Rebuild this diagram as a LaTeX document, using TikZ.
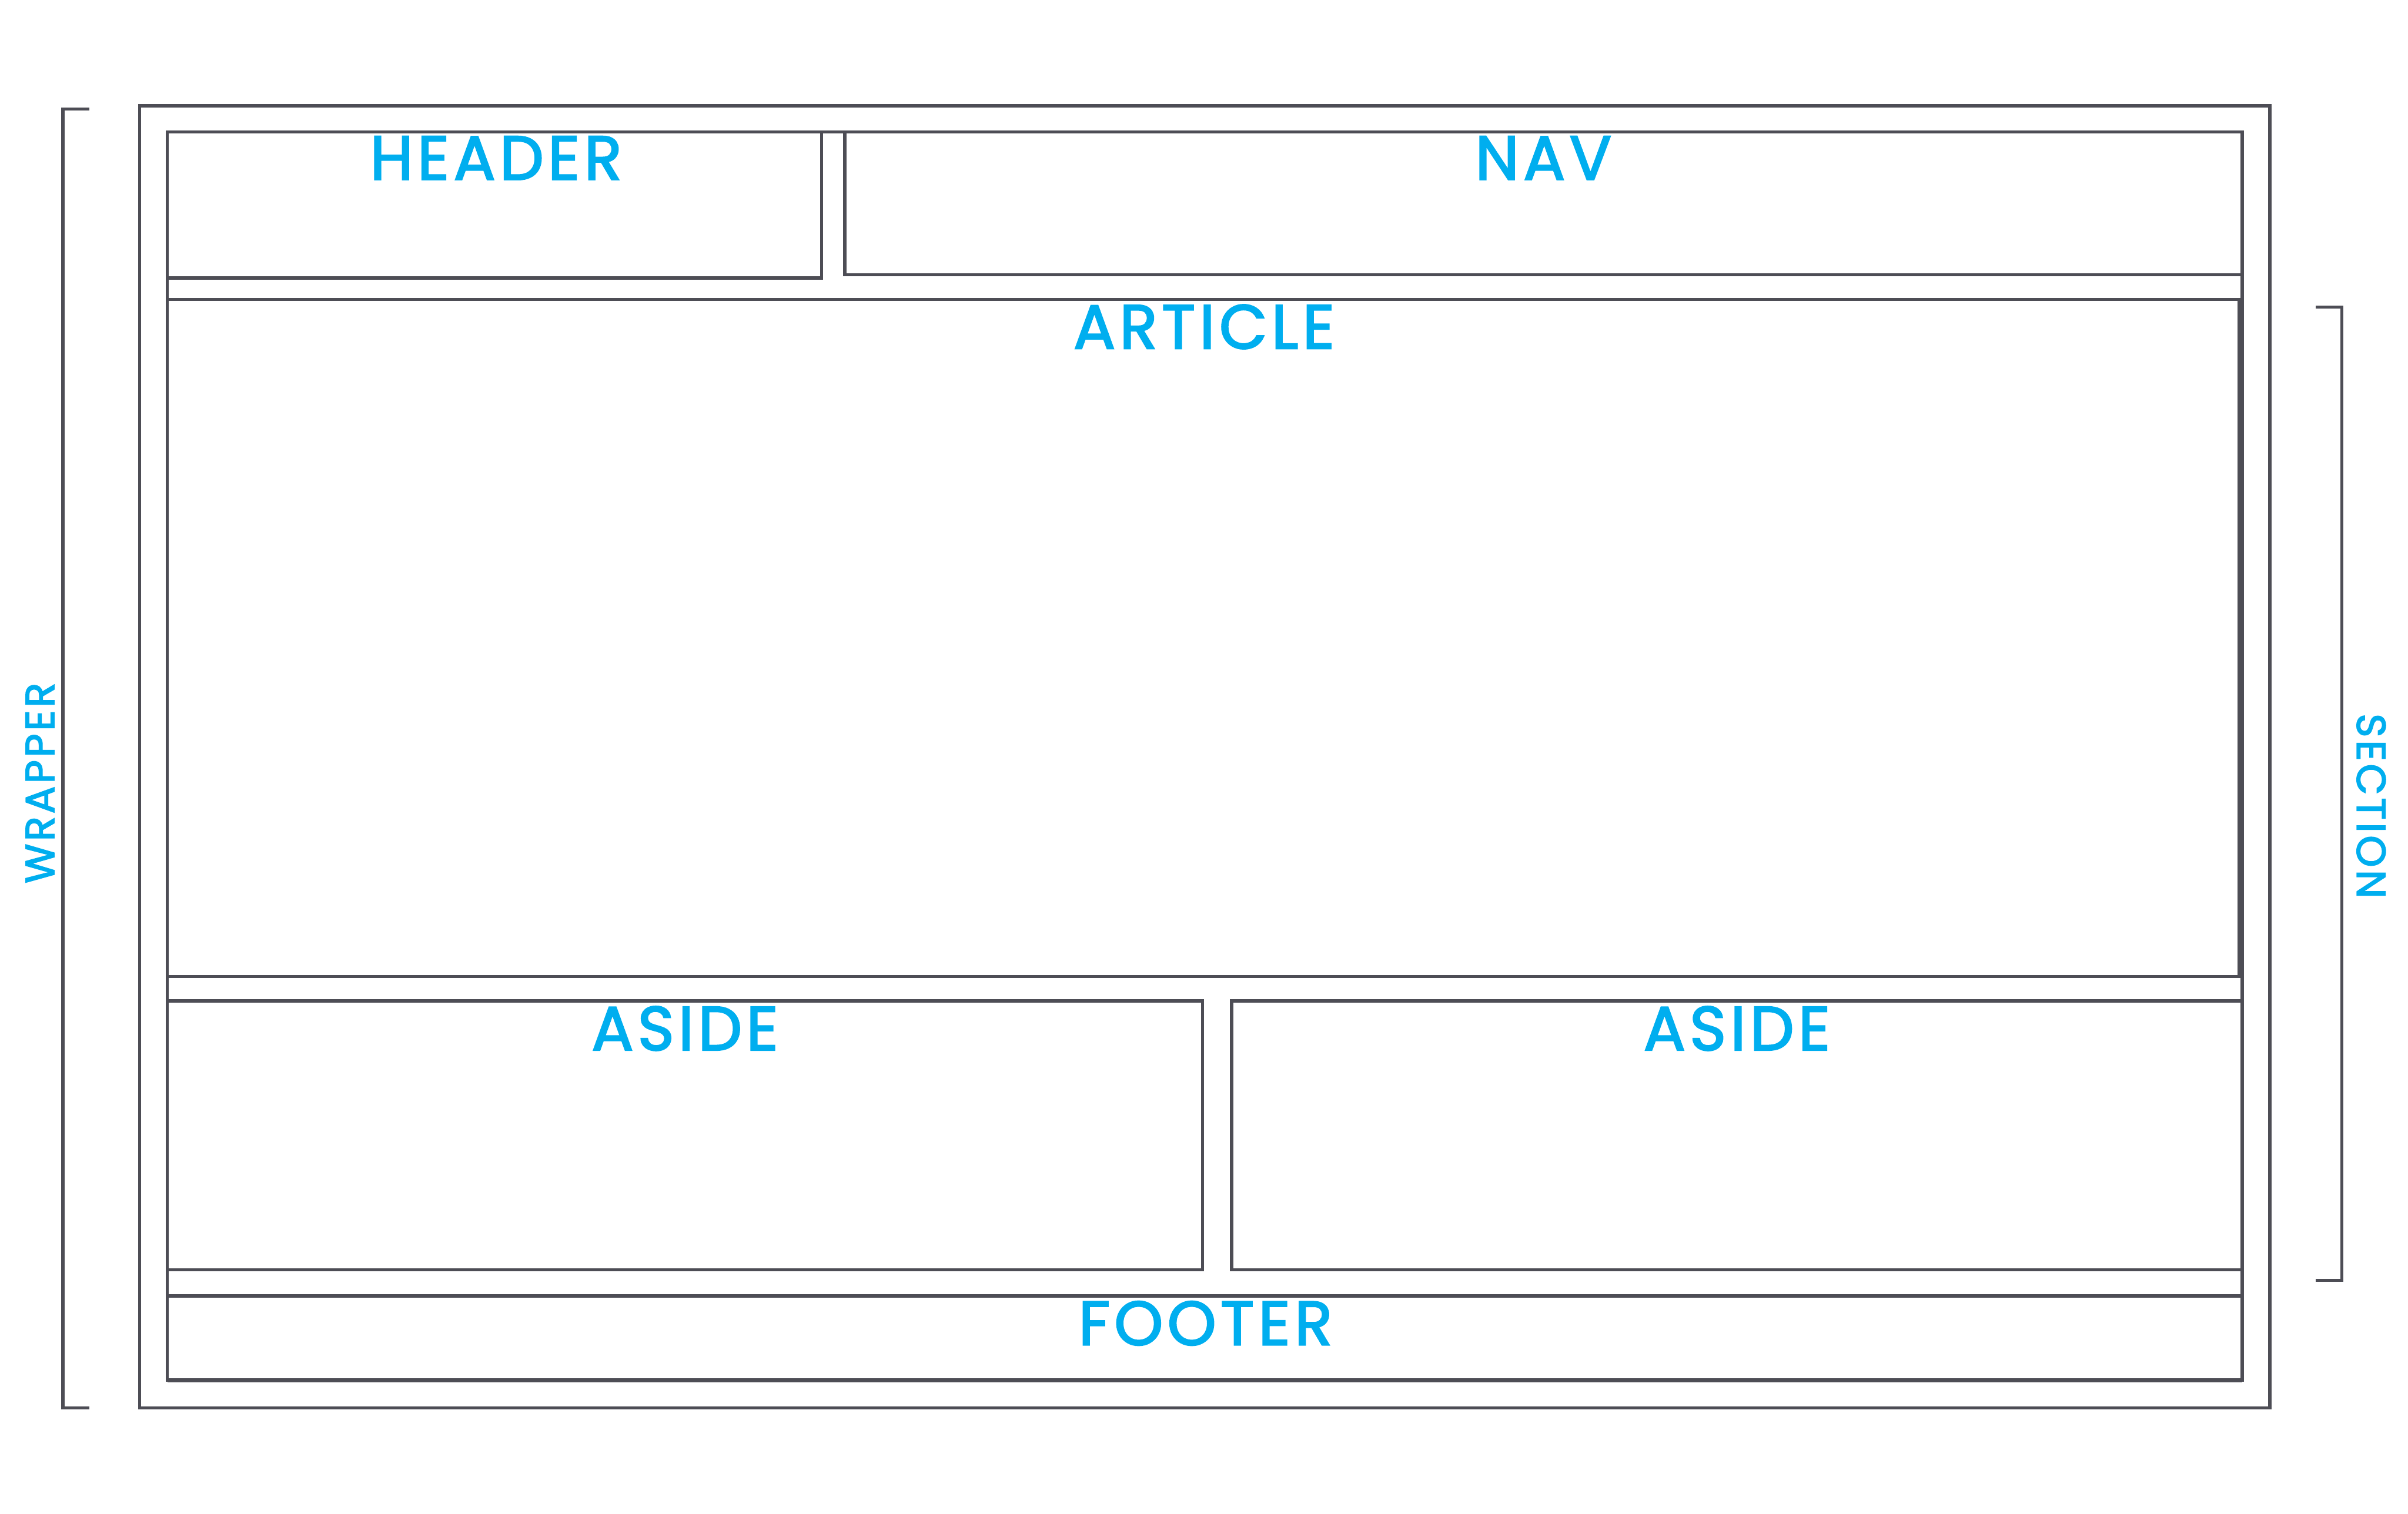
\documentclass[tikz,border=0pt]{standalone}
\usepackage{fontspec}
\setmainfont{Poppins}
\newfontfamily\tagfont{Poppins}[FakeBold=2.5,LetterSpace=7]
\usepackage{tikz}
\usetikzlibrary{positioning}
\definecolor{frameclr}{HTML}{4D4D55}
\definecolor{tagclr}{HTML}{00AEEF}
\begin{document}
\begin{tikzpicture}[x=0.02cm,y=-0.02cm,
  frame/.style={draw=frameclr,line width=1.2pt},
  tag/.style={text=tagclr,anchor=base,inner sep=0pt,font=\tagfont\fontsize{23}{23}\selectfont},
  sidetag/.style={text=tagclr,inner sep=0pt,font=\tagfont\fontsize{15}{15}\selectfont}]
  \useasboundingbox (0,0) rectangle (1568,986);
  % wrapper and section
  \draw[frame](91,69) rectangle (1478,917);
  \draw[frame](109,86) rectangle (1460,899);
  \draw[frameclr,line width=1.7pt](109,899)--(1460,899);
  % boxes inside the section
  \draw[frame](109,86) rectangle (535,181);
  \draw[frame](550,86) rectangle (1460,179);
  \draw[frame](109,195) rectangle (1458,636);
  \draw[frame](109,652) rectangle (783,827);
  \draw[frame](802,652) rectangle (1460,827);
  \draw[frame](109,844) rectangle (1460,899);
  % labels
  \node[tag] (header) at (323,117){HEADER};
  \node[tag] (nav) at (1005,117){NAV};
  \node[tag] (article) at (784,227){ARTICLE};
  \node[tag] (asideL) at (446,684){ASIDE};
  \node[tag] (asideR) at (1131,684){ASIDE};
  \node[tag] (footer) at (785,876){FOOTER};
  % brackets
  \coordinate (wtop) at (41,71);\coordinate (wbot) at (41,917);
  \draw[frame](58,71)--(wtop)--(wbot)--(58,917);
  \coordinate (stop) at (1525,200);\coordinate (sbot) at (1525,834);
  \draw[frame](1508,200)--(stop)--(sbot)--(1508,834);
  \node[sidetag,rotate=90] (wrapper) at (26,510){WRAPPER};
  \node[sidetag,rotate=-90] (section) at (1544,525){SECTION};
\end{tikzpicture}
\end{document}
